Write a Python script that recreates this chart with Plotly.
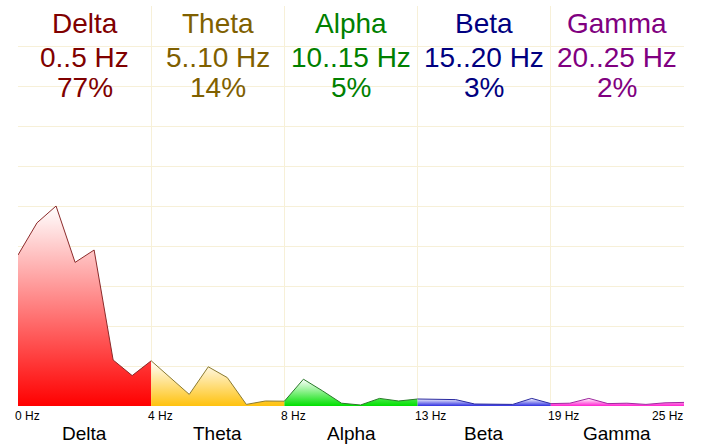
import plotly.graph_objects as go

bands = ["Delta", "Theta", "Alpha", "Beta", "Gamma"]
band_ranges = ["0..5 Hz", "5..10 Hz", "10..15 Hz", "15..20 Hz", "20..25 Hz"]
band_pct = ["77%", "14%", "5%", "3%", "2%"]
tick_labels = ["0 Hz", "4 Hz", "8 Hz", "13 Hz", "19 Hz", "25 Hz"]

# spectrum power, 7 bins per band (36 samples, band edges shared)
power = [37.75, 45.8, 50.0, 35.9, 39.0, 11.5, 7.6, 11.3,
         7.2, 2.9, 9.8, 7.1, 0.4, 1.25, 1.2,
         6.7, 3.8, 0.7, 0.25, 1.9, 1.25, 1.75,
         1.75, 1.6, 0.5, 0.4, 0.4, 1.9, 0.6,
         0.7, 1.9, 0.6, 0.7, 0.4, 0.8, 0.9]

text_colors = ["#800000", "#7F6000", "#008000", "#000080", "#800080"]
fill_colors = ["#FF0000", "#FFC20E", "#00E000", "#3030E0", "#FF20D0"]
line_colors = ["#8B2A2A", "#8B7A30", "#2A7A2A", "#2A2AA0", "#A02AA0"]
grid_color = "#F7F0D8"

steps = 7
fig = go.Figure()
for i, name in enumerate(bands):
    xs = list(range(i * steps, (i + 1) * steps + 1))
    ys = power[i * steps:(i + 1) * steps + 1]
    fig.add_trace(go.Scatter(
        x=xs, y=ys, mode="lines", name=name,
        line=dict(color=line_colors[i], width=1),
        fill="tozeroy",
        fillgradient=dict(type="vertical", start=0, stop=max(ys),
                          colorscale=[[0, fill_colors[i]], [1, "#FFFFFF"]]),
        hoverinfo="skip", showlegend=False))

ann = []
for i, name in enumerate(bands):
    cx = i * steps + steps / 2
    for txt, dy in ((name, -17.5), (band_ranges[i], -51.5), (band_pct[i], -81.5)):
        ann.append(dict(x=cx, y=1, xref="x", yref="paper", text=txt, showarrow=False,
                        xanchor="center", yanchor="middle", yshift=dy,
                        font=dict(family="Liberation Sans, Arial", size=28, color=text_colors[i])))
    ann.append(dict(x=cx, y=0, xref="x", yref="paper", text=name, showarrow=False,
                    xanchor="center", yanchor="middle", yshift=-27,
                    font=dict(family="Liberation Sans, Arial", size=19, color="#000000")))
for j, t in enumerate(tick_labels):
    last = j == len(tick_labels) - 1
    ann.append(dict(x=j * steps, y=0, xref="x", yref="paper", text=t, showarrow=False,
                    xanchor="right" if last else "left", yanchor="top",
                    xshift=1 if last else -5, yshift=-1,
                    font=dict(family="Liberation Sans, Arial", size=12, color="#000000")))

fig.update_layout(
    width=707, height=445,
    margin=dict(l=18, r=23, t=6, b=39),
    paper_bgcolor="white", plot_bgcolor="white",
    xaxis=dict(range=[0, len(bands) * steps], tickvals=[j * steps for j in range(len(tick_labels))],
               showticklabels=False, showgrid=True, gridcolor=grid_color, gridwidth=1,
               zeroline=False, showline=False, ticks=""),
    yaxis=dict(range=[0, 100], dtick=10, showticklabels=False, showgrid=True,
               gridcolor=grid_color, gridwidth=1, zeroline=False, showline=False, ticks=""),
    annotations=ann,
)
fig.write_html("out.html", config={"displayModeBar": False},
               post_script="document.body.style.margin='0';document.body.style.overflow='hidden';")
